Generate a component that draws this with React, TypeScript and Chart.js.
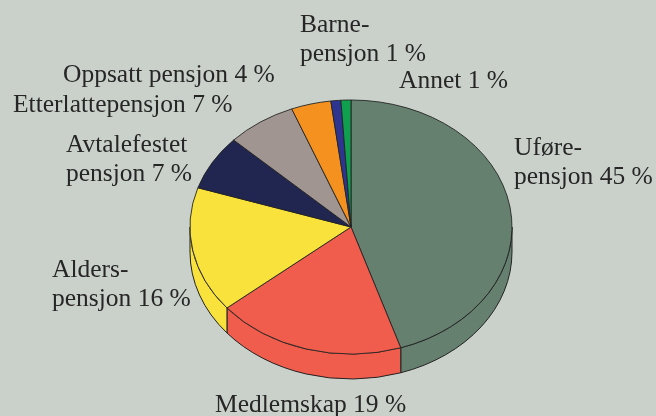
import { useEffect, useRef } from "react";
import { Chart, registerables } from "chart.js";

Chart.register(...registerables);

// ---- data ----
const categories = [
  "Uføre-\npensjon",
  "Medlemskap",
  "Alders-\npensjon",
  "Avtalefestet\npensjon",
  "Etterlattepensjon",
  "Oppsatt pensjon",
  "Barne-\npensjon",
  "Annet",
];
const shares = [45, 19, 16, 7, 7, 4, 1, 1];
const sliceColors = [
  "#65806f",
  "#f05d4d",
  "#f9e23c",
  "#212650",
  "#a09590",
  "#f5921f",
  "#2e3591",
  "#0f9f4f",
];

// ---- layout (label anchors: left x, first baseline y) ----
const labelAnchors: [number, number][] = [
  [514, 155],
  [215, 412],
  [52, 277],
  [66, 152],
  [13, 112],
  [63, 82],
  [300, 32],
  [399, 88],
];
const BG = "#cad1ca";
const EDGE = "#232323";
const TILT = 127 / 161;
const DEPTH = 25;
const FONT = "25.5px 'Liberation Serif', 'DejaVu Serif', serif";
const LINE_H = 28.5;

const pie3d = {
  id: "pie3d",
  beforeDraw(chart: any) {
    const ctx = chart.ctx;
    ctx.save();
    ctx.fillStyle = BG;
    ctx.fillRect(0, 0, chart.width, chart.height);
    ctx.restore();
  },
  beforeDatasetsDraw(chart: any) {
    const ctx = chart.ctx;
    const meta = chart.getDatasetMeta(0);
    const first = meta.data[0];
    if (!first) return;
    const { x, y, outerRadius } = first.getProps(["x", "y", "outerRadius"], true);
    const rx = outerRadius;
    const ry = outerRadius * TILT;
    ctx.save();
    ctx.lineWidth = 1;
    ctx.strokeStyle = EDGE;
    ctx.lineJoin = "round";
    meta.data.forEach((arc: any, i: number) => {
      const { startAngle, endAngle } = arc.getProps(["startAngle", "endAngle"], true);
      const lo = Math.max(startAngle, 0);
      const hi = Math.min(endAngle, Math.PI);
      if (hi <= lo) return;
      ctx.beginPath();
      ctx.ellipse(x, y, rx, ry, 0, lo, hi);
      ctx.ellipse(x, y + DEPTH, rx, ry, 0, hi, lo, true);
      ctx.closePath();
      ctx.fillStyle = sliceColors[i];
      ctx.fill();
      ctx.stroke();
    });
    ctx.restore();
    ctx.save();
    ctx.translate(x, y);
    ctx.scale(1, TILT);
    ctx.translate(-x, -y);
  },
  afterDatasetsDraw(chart: any) {
    chart.ctx.restore();
  },
  afterDraw(chart: any) {
    const ctx = chart.ctx;
    ctx.save();
    ctx.font = FONT;
    ctx.fillStyle = "#262626";
    ctx.textAlign = "left";
    ctx.textBaseline = "alphabetic";
    categories.forEach((name, i) => {
      const lines = name.split("\n");
      lines[lines.length - 1] += " " + shares[i] + " %";
      const [lx, ly] = labelAnchors[i];
      lines.forEach((ln, j) => ctx.fillText(ln, lx, ly + j * LINE_H));
    });
    ctx.restore();
  },
};

export default function App() {
  const ref = useRef<HTMLCanvasElement>(null);
  useEffect(() => {
    if (!ref.current) return;
    const chart = new Chart(ref.current, {
      type: "pie",
      data: {
        labels: categories.map((c) => c.replace("\n", " ")),
        datasets: [
          {
            data: shares,
            backgroundColor: sliceColors,
            borderColor: EDGE,
            borderWidth: 1,
            radius: 161,
            clip: false as any,
          } as any,
        ],
      },
      options: {
        animation: false,
        responsive: false,
        events: [],
        layout: { padding: { left: 46, right: 0, top: 40, bottom: 2 } },
        plugins: {
          legend: { display: false },
          tooltip: { enabled: false },
        },
      },
      plugins: [pie3d],
    });
    return () => chart.destroy();
  }, []);
  return (
    <div style={{ position: "fixed", left: 0, top: 0, width: 656, height: 416, background: BG }}>
      <canvas ref={ref} width={656} height={416} style={{ width: 656, height: 416, display: "block" }} />
    </div>
  );
}
